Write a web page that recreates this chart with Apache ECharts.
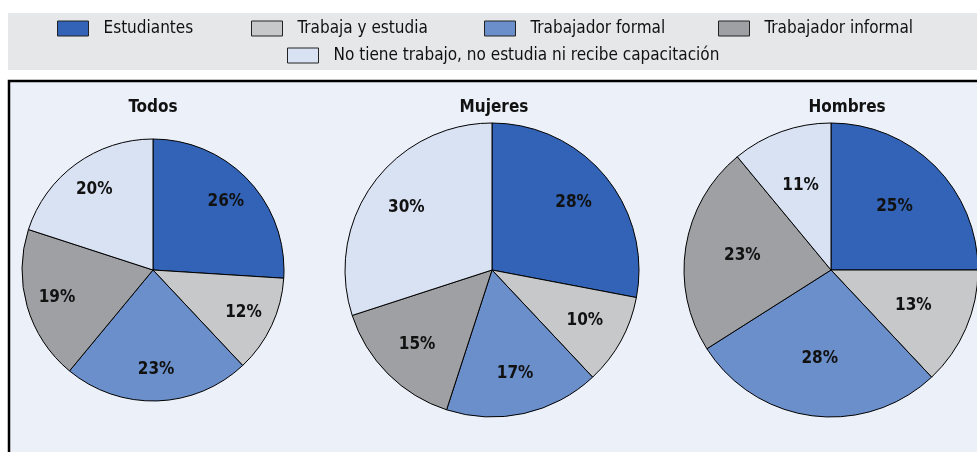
<!DOCTYPE html>
<html>
<head>
<meta charset="utf-8">
<script src="https://cdn.jsdelivr.net/npm/echarts@6/dist/echarts.min.js"></script>
<style>
  html, body { margin: 0; padding: 0; background: #fff; }
  #chart { width: 977px; height: 452px; }
</style>
</head>
<body>
<div id="chart"></div>
<script>
// categorias y valores (%)
const categories = [
  'Estudiantes',
  'Trabaja y estudia',
  'Trabajador formal',
  'Trabajador informal',
  'No tiene trabajo, no estudia ni recibe capacitación'
];
const groups = ['Todos', 'Mujeres', 'Hombres'];
const todos = [26, 12, 23, 19, 20];
const mujeres = [28, 10, 17, 15, 30];
const hombres = [25, 13, 28, 23, 11];

const colors = ['#3263b6', '#c7c8ca', '#6b8fcb', '#9fa0a3', '#d9e2f3'];
const font = '"Liberation Sans Narrow", "DejaVu Sans Condensed", "Liberation Sans", sans-serif';

const values = [todos, mujeres, hombres];
const centers = [[153, 270], [492, 270], [831, 270]];
const radii = [131, 147, 147];
const labelInner = [0.48, 0.4, 0.18]; // para acercar las etiquetas al borde
const titleX = [153, 494, 847];

const toData = (arr) => arr.map((v, i) => ({ name: categories[i], value: v }));

let series = [];
values.forEach((arr, k) => {
  series.push({
    type: 'pie',
    name: groups[k],
    center: centers[k],
    radius: [0, radii[k]],
    startAngle: 90,
    silent: true,
    label: { show: false },
    labelLine: { show: false },
    itemStyle: { borderColor: '#000', borderWidth: 1 },
    data: toData(arr)
  });
});
// capa transparente solo para las etiquetas
values.forEach((arr, k) => {
  series.push({
    type: 'pie',
    name: groups[k] + ' etiquetas',
    center: centers[k],
    radius: [radii[k] * labelInner[k], radii[k]],
    startAngle: 90,
    silent: true,
    emphasis: { disabled: true },
    itemStyle: { color: 'transparent', borderWidth: 0 },
    label: {
      show: true,
      position: 'inside',
      formatter: '{c}%',
      color: '#111',
      fontFamily: font,
      fontWeight: 'bold',
      fontSize: 17
    },
    labelLine: { show: false },
    data: toData(arr)
  });
});

const legendPos = [[57, 20], [251, 20], [484, 20], [718, 20], [287, 47]];
const legends = categories.map((c, i) => ({
  data: [c],
  left: legendPos[i][0],
  top: legendPos[i][1],
  padding: 0,
  icon: 'rect',
  itemWidth: 31,
  itemHeight: 15,
  selectedMode: false,
  itemStyle: { borderColor: '#222', borderWidth: 1 },
  textStyle: { fontFamily: font, fontSize: 17, color: '#111', padding: [0, 0, 0, 10] }
}));

const chart = echarts.init(document.getElementById('chart'));
chart.setOption({
  animation: false,
  color: colors,
  graphic: [
    { type: 'rect', z: -10, shape: { x: 8, y: 13, width: 980, height: 57 }, style: { fill: '#e6e7e8' } },
    { type: 'rect', z: -10, shape: { x: 9, y: 81, width: 1000, height: 420 },
      style: { fill: '#ecf0f9', stroke: '#000', lineWidth: 2.5 } }
  ],
  title: groups.map((g, k) => ({
    text: g,
    left: titleX[k],
    top: 99,
    textAlign: 'center',
    padding: 0,
    textStyle: { fontFamily: font, fontWeight: 'bold', fontSize: 17, color: '#111' }
  })),
  legend: legends,
  series
});
</script>
</body>
</html>
